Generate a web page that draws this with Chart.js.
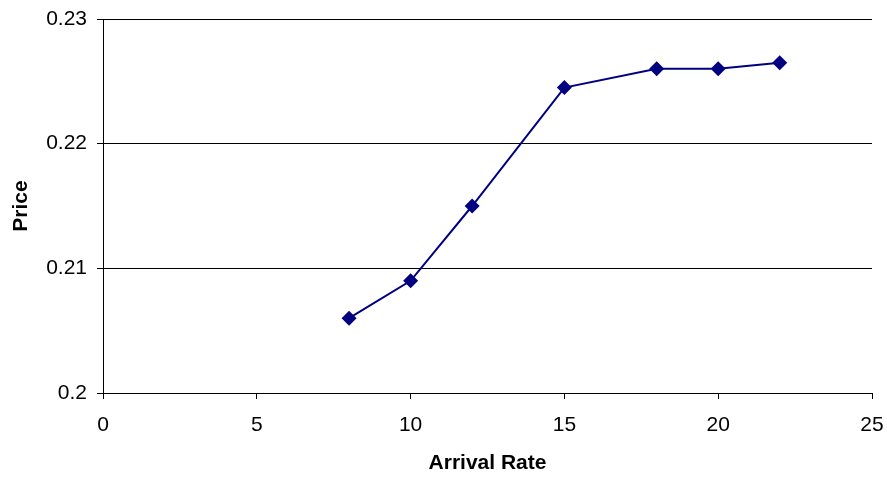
<!DOCTYPE html>
<html>
<head>
<meta charset="utf-8">
<script src="https://cdn.jsdelivr.net/npm/chart.js@4/dist/chart.umd.min.js"></script>
<style>
html,body{margin:0;padding:0;background:#fff;}
#wrap{width:887px;height:478px;position:relative;}
</style>
</head>
<body>
<div id="wrap"><canvas id="c" width="887" height="478"></canvas></div>
<script>
const arrivalRate = [8, 10, 12, 15, 18, 20, 22];
const price = [0.206, 0.209, 0.215, 0.2245, 0.226, 0.226, 0.2265];
const xTicks = [0, 5, 10, 15, 20, 25];
const yTicks = [0.2, 0.21, 0.22, 0.23];

const FONT = 'Liberation Sans, Arial, Helvetica, sans-serif';

new Chart(document.getElementById('c'), {
  type: 'line',
  data: {
    datasets: [{
      data: arrivalRate.map((x, i) => ({x: x, y: price[i]})),
      borderColor: '#000080',
      backgroundColor: '#000080',
      borderWidth: 2,
      pointStyle: 'rectRot',
      pointRadius: 7.5,
      pointHoverRadius: 7.5,
      pointBorderWidth: 0,
      tension: 0,
      fill: false
    }]
  },
  options: {
    responsive: false,
    animation: false,
    layout: {padding: {left: 0, right: 15, top: 19, bottom: 0}},
    plugins: {legend: {display: false}, tooltip: {enabled: false}},
    scales: {
      x: {
        type: 'linear',
        min: 0, max: 25,
        afterBuildTicks: s => { s.ticks = xTicks.map(v => ({value: v})); },
        afterFit: s => { s.height = 85; s.paddingLeft = 0; s.paddingRight = 0; },
        grid: {drawOnChartArea: false, drawTicks: true, tickLength: 6, color: '#000', lineWidth: 1},
        border: {color: '#000', width: 1},
        ticks: {color: '#000', font: {family: FONT, size: 21}, padding: 14, maxRotation: 0},
        title: {display: true, text: 'Arrival Rate', color: '#000', font: {family: FONT, size: 21, weight: 'bold'}, padding: {top: 4, bottom: 2}}
      },
      y: {
        type: 'linear',
        min: 0.2, max: 0.23,
        afterBuildTicks: s => { s.ticks = yTicks.map(v => ({value: v})); },
        afterFit: s => { s.width = 103; s.paddingTop = 0; s.paddingBottom = 0; },
        grid: {drawOnChartArea: true, drawTicks: true, tickLength: 6, color: '#000', lineWidth: 1},
        border: {display: true, color: '#000', width: 1},
        ticks: {color: '#000', font: {family: FONT, size: 21}, padding: 10, callback: v => String(+v.toFixed(2))},
        title: {display: true, text: 'Price', color: '#000', font: {family: FONT, size: 21, weight: 'bold'}, padding: {top: 9, bottom: 0}}
      }
    }
  }
});
</script>
</body>
</html>
